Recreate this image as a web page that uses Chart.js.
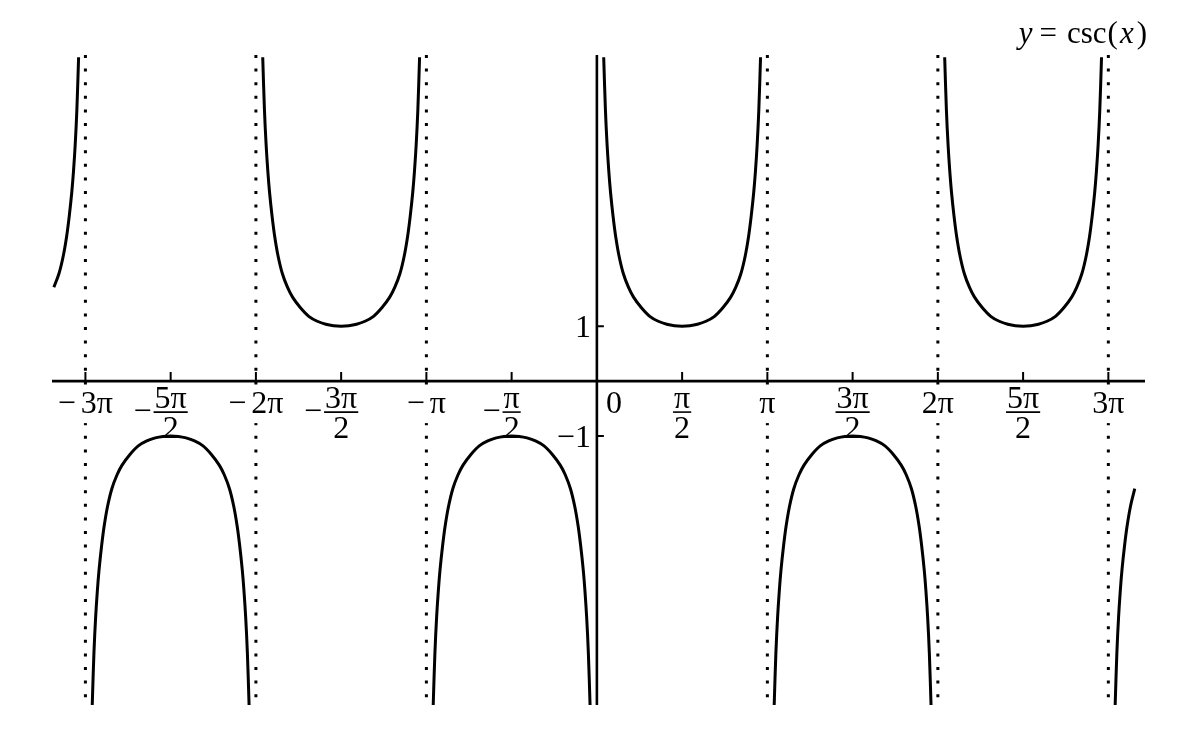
<!DOCTYPE html>
<html>
<head>
<meta charset="utf-8">
<script src="https://cdn.jsdelivr.net/npm/chart.js@4"></script>
<style>
  html, body { margin: 0; padding: 0; background: #fff; }
  #wrap { width: 1186px; height: 738px; position: relative; }
</style>
</head>
<body>
<div id="wrap"><canvas id="myChart"></canvas></div>
<script>
// x values are in units of pi
const xRange = [-3.196, 3.215];
const yRange = [-5.9, 5.94];
const curveDomain = [-3.19, 3.165];

const halfOffsets = [0.04, 0.05, 0.06, 0.07, 0.08, 0.095, 0.11, 0.13, 0.155, 0.185, 0.215, 0.26, 0.31, 0.36, 0.41, 0.455, 0.5];
const halfHeights = [5.9, 4.95, 4.3, 3.82, 3.44, 3.0, 2.64, 2.28, 1.96, 1.71, 1.53, 1.34, 1.18, 1.09, 1.035, 1.008, 1.0];

// each branch sits between k*pi and (k+1)*pi
const branchStarts = [-4, -3, -2, -1, 0, 1, 2, 3];
const branchSigns = [1, -1, 1, -1, 1, -1, 1, -1];

// dotted vertical asymptotes
const asymptotes = [-3, -2, -1, 1, 2, 3];

const xTickValues = [-3, -2.5, -2, -1.5, -1, -0.5, 0.5, 1, 1.5, 2, 2.5, 3];
const xTickLabels = ['−3π', '−5π/2', '−2π', '−3π/2', '−π', '−π/2', 'π/2', 'π', '3π/2', '2π', '5π/2', '3π'];
const yTickValues = [1, -1];
const yTickLabels = ['1', '−1'];

const SERIF = '"Liberation Serif", "DejaVu Serif", serif';

function branchPoints(k, sign) {
    const pts = [];
    halfOffsets.forEach((u, i) => pts.push({ x: k + u, y: sign * halfHeights[i] }));
    for (let i = halfOffsets.length - 2; i >= 0; i--) {
        pts.push({ x: k + 1 - halfOffsets[i], y: sign * halfHeights[i] });
    }
    return pts.filter(p => p.x >= curveDomain[0] && p.x <= curveDomain[1]);
}

const datasets = [];
branchStarts.forEach((k, i) => {
    datasets.push({
        data: branchPoints(k, branchSigns[i]),
        borderColor: '#000',
        borderWidth: 3,
        pointRadius: 0,
        showLine: true,
        tension: 0.35
    });
});
asymptotes.forEach(a => {
    datasets.push({
        data: [{ x: a, y: yRange[1] }, { x: a, y: yRange[0] }],
        borderColor: '#000',
        borderWidth: 3,
        borderDash: [3, 10.6],
        borderCapStyle: 'butt',
        pointRadius: 0,
        showLine: true
    });
});

// axes, tick marks and the math-style labels
const axesPlugin = {
    id: 'axes',
    beforeDatasetsDraw(chart) {
        const { ctx, chartArea: a, scales: { x, y } } = chart;
        const x0 = x.getPixelForValue(0), y0 = y.getPixelForValue(0);
        ctx.save();
        ctx.strokeStyle = '#000';
        ctx.lineWidth = 2.6;
        ctx.beginPath();
        ctx.moveTo(a.left, y0); ctx.lineTo(a.right, y0);
        ctx.moveTo(x0, a.top); ctx.lineTo(x0, a.bottom);
        ctx.stroke();
        ctx.lineWidth = 2;
        ctx.beginPath();
        xTickValues.forEach(v => {
            const px = x.getPixelForValue(v);
            ctx.moveTo(px, y0); ctx.lineTo(px, y0 - 9);
        });
        yTickValues.forEach(v => {
            const py = y.getPixelForValue(v);
            ctx.moveTo(x0, py); ctx.lineTo(x0 + 7, py);
        });
        ctx.stroke();
        ctx.restore();
    },
    afterDatasetsDraw(chart) {
        const { ctx, scales: { x, y } } = chart;
        const x0 = x.getPixelForValue(0), y0 = y.getPixelForValue(0);
        ctx.save();
        ctx.fillStyle = '#000';
        ctx.strokeStyle = '#000';
        ctx.font = '32px ' + SERIF;
        ctx.textBaseline = 'alphabetic';

        xTickValues.forEach((v, i) => {
            const px = x.getPixelForValue(v);
            let label = xTickLabels[i];
            let sign = '';
            if (label.startsWith('−')) { sign = '−'; label = label.slice(1); }
            if (label.includes('/')) {
                const [num, den] = label.split('/');
                const wn = ctx.measureText(num).width;
                const wd = ctx.measureText(den).width;
                const w = Math.max(wn, wd) + 2;
                ctx.textAlign = 'center';
                ctx.fillText(num, px, y0 + 27);
                ctx.fillText(den, px, y0 + 57);
                ctx.lineWidth = 1.6;
                ctx.beginPath();
                ctx.moveTo(px - w / 2, y0 + 31); ctx.lineTo(px + w / 2, y0 + 31);
                ctx.stroke();
                if (sign) {
                    ctx.textAlign = 'right';
                    ctx.fillText(sign, px - w / 2 - 2, y0 + 40);
                }
            } else {
                const gap = sign ? 5 : 0;
                const ws = sign ? ctx.measureText(sign).width : 0;
                const wb = ctx.measureText(label).width;
                const total = ws + gap + wb;
                const left = px - total / 2;
                ctx.fillStyle = '#fff';
                ctx.fillRect(left - 2, y0 + 4, total + 4, 38);
                ctx.fillStyle = '#000';
                ctx.textAlign = 'left';
                if (sign) ctx.fillText(sign, left, y0 + 32);
                ctx.fillText(label, left + ws + gap, y0 + 32);
            }
        });

        ctx.textAlign = 'left';
        ctx.fillText('0', x0 + 9, y0 + 32);

        ctx.textAlign = 'right';
        yTickValues.forEach((v, i) => {
            const py = y.getPixelForValue(v);
            ctx.fillText(yTickLabels[i], x0 - 6, py + 11);
        });

        // title  y = csc(x)
        const parts = [
            ['y', 'italic 31px ' + SERIF, 7],
            ['=', '31px ' + SERIF, 10],
            ['csc', '31px ' + SERIF, 1],
            ['(', '31px ' + SERIF, 2],
            ['x', 'italic 31px ' + SERIF, 3],
            [')', '31px ' + SERIF, 0]
        ];
        let total = 0;
        parts.forEach(p => { ctx.font = p[1]; total += ctx.measureText(p[0]).width + p[2]; });
        let cx = 1147 - total;
        ctx.textAlign = 'left';
        parts.forEach(p => {
            ctx.font = p[1];
            ctx.fillText(p[0], cx, 43);
            cx += ctx.measureText(p[0]).width + p[2];
        });
        ctx.restore();
    }
};

const ctx = document.getElementById('myChart').getContext('2d');
const myChart = new Chart(ctx, {
    type: 'scatter',
    data: { datasets: datasets },
    options: {
        responsive: true,
        maintainAspectRatio: false,
        animation: false,
        layout: { padding: { left: 52, right: 41, top: 55, bottom: 33 } },
        plugins: { legend: { display: false }, tooltip: { enabled: false }, title: { display: false } },
        scales: {
            x: { type: 'linear', min: xRange[0], max: xRange[1], display: false },
            y: { type: 'linear', min: yRange[0], max: yRange[1], display: false }
        }
    },
    plugins: [axesPlugin]
});
</script>
</body>
</html>
